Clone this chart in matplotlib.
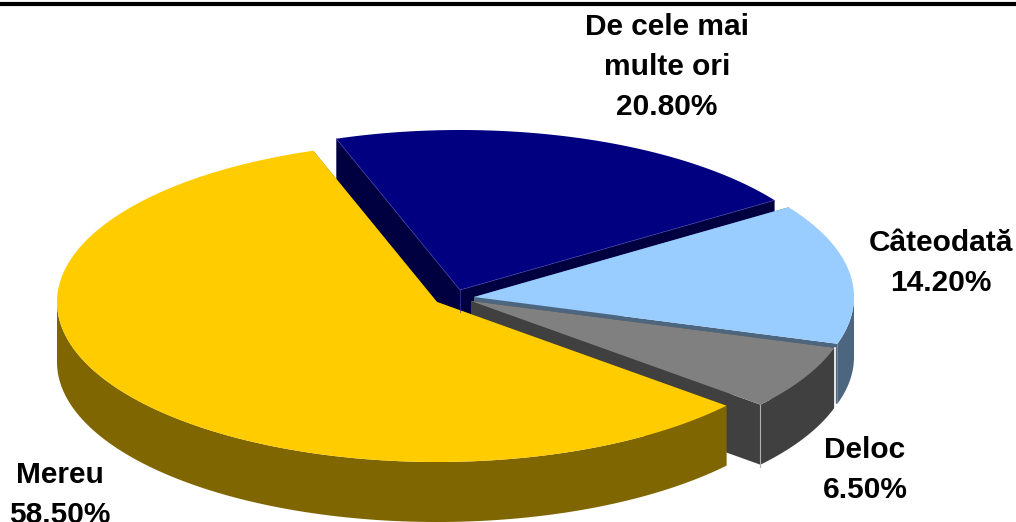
import numpy as np
import matplotlib
matplotlib.use("Agg")
import matplotlib.pyplot as plt
from matplotlib.patches import Polygon

plt.rcParams['font.family'] = ['Liberation Sans', 'DejaVu Sans']

# Values, in drawing order (counter-clockwise from start_angle)
names = ["Mereu", "Deloc", "Câteodată", "De cele mai\nmulte ori"]
values = [58.5, 6.5, 14.2, 20.8]
top_colors = ["#FFCC00", "#808080", "#99CCFF", "#000080"]
side_colors = ["#806600", "#404040", "#4D6680", "#000040"]
centers = [(437, 302), (471, 301), (474, 297), (460, 290)]
label_pos = [(60, 495), (865, 470), (941, 263), (667, 67)]

start_angle = 109.0
rx = 380
ry = 160
depth = 60


def arc(cx, cy, a1, a2):
    t = np.radians(np.linspace(a1, a2, 200))
    return np.column_stack([cx + rx * np.cos(t), cy - ry * np.sin(t)])


def draw_slice(ax, center, a1, a2, top, side):
    cx, cy = center
    down = np.array([0, depth])
    # the two flat cut faces first
    for a in (a1, a2):
        edge = arc(cx, cy, a, a)[[0]]
        pts = np.vstack([[cx, cy], edge, edge + down, [cx, cy + depth]])
        ax.add_patch(Polygon(pts, fc=side, ec="none"))
    # outer rim, only the part turned to the viewer
    for lo, hi in ((180, 360), (540, 720)):
        b1, b2 = max(a1, lo), min(a2, hi)
        if b2 > b1:
            rim = arc(cx, cy, b1, b2)
            pts = np.vstack([rim, rim[::-1] + down])
            ax.add_patch(Polygon(pts, fc=side, ec="none"))
    # top face
    pts = np.vstack([[cx, cy], arc(cx, cy, a1, a2)])
    ax.add_patch(Polygon(pts, fc=top, ec="none"))


fig = plt.figure(figsize=(10.16, 5.22), dpi=100)
ax = fig.add_axes([0, 0, 1, 1])
ax.set_xlim(0, 1016)
ax.set_ylim(522, 0)
ax.axis("off")

# top rule
ax.plot([0, 1016], [4, 4], color="black", lw=3)

# cumulative angles for each slice
angles = start_angle + np.cumsum([0] + values) * 3.6

# back to front
for i in [3, 2, 1, 0]:
    draw_slice(ax, centers[i], angles[i], angles[i + 1], top_colors[i], side_colors[i])
    if i == 3:
        # faint lines on the navy slice
        cx, cy = centers[i]
        for a in (angles[i], angles[i + 1]):
            p = arc(cx, cy, a, a)[0]
            ax.plot([cx, p[0]], [cy, p[1]], color="#3A3AA0", lw=0.5)
        ax.plot([cx, cx], [cy, cy + 22], color="#3A3AA0", lw=0.5)
    if i == 1:
        # light corner lines on the grey slice
        cx, cy = centers[i]
        p = arc(cx, cy, angles[i], angles[i])[0]
        ax.plot([p[0], p[0]], [p[1], p[1] + depth + 2], color="#B0B0B0", lw=0.8)
        p = arc(cx, cy, angles[i + 1], angles[i + 1])[0]
        ax.plot([p[0] + 1, p[0] + 1], [p[1], p[1] + depth], color="white", lw=1.2)

for name, v, pos in zip(names, values, label_pos):
    ax.text(pos[0], pos[1], f"{name}\n{v:.2f}%", ha="center", va="center",
            fontsize=21.5, fontweight="bold", color="black", linespacing=1.56)

fig.savefig("out.png", dpi=100)
